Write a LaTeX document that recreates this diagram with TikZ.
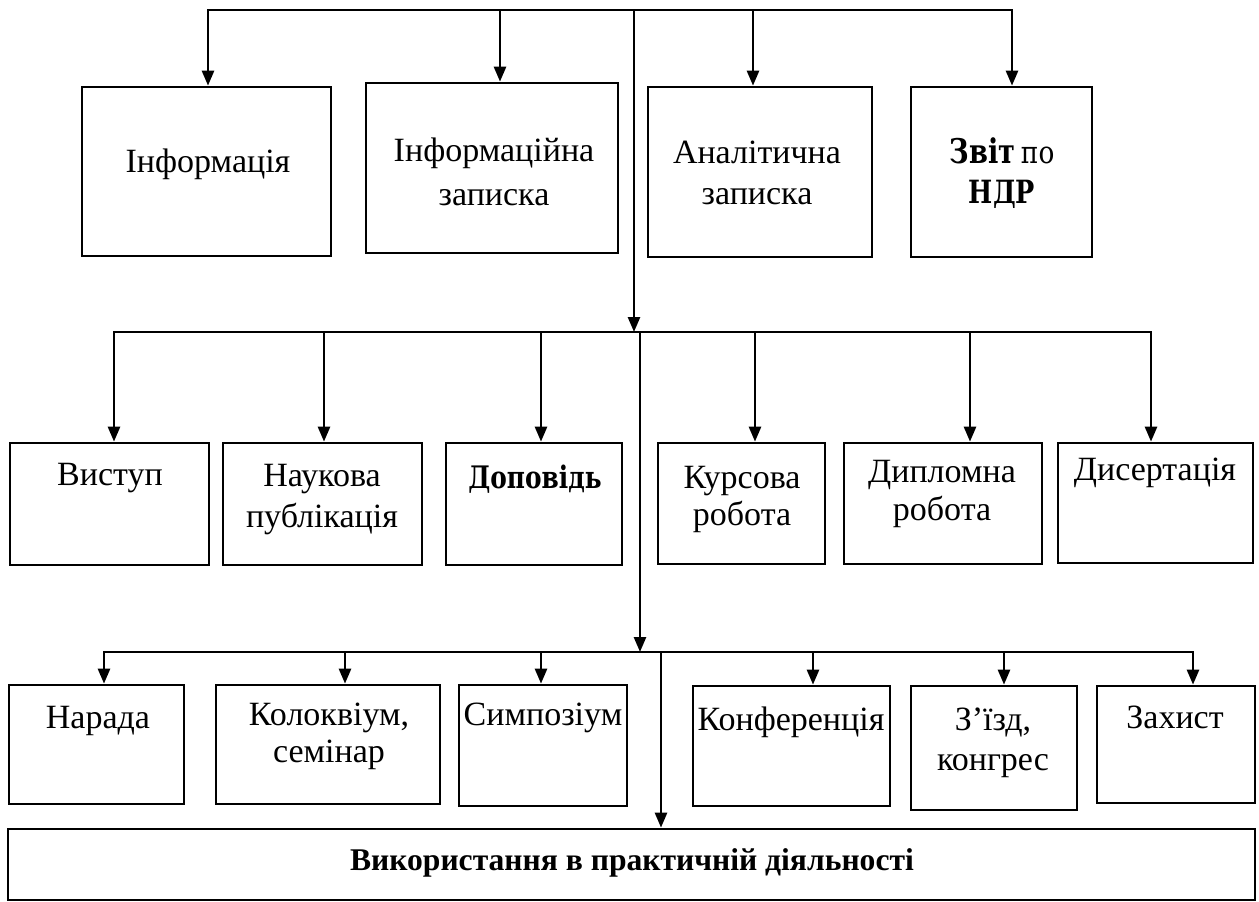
\documentclass[tikz,border=0pt]{standalone}
\usepackage{fontspec}
\setmainfont{Liberation Serif}
\newfontfamily\cent[FakeStretch=0.85]{DejaVu Serif}
\newfontfamily\centb[FakeStretch=0.8]{DejaVu Serif}
\usetikzlibrary{arrows.meta}
\begin{document}
\begin{tikzpicture}[x=1pt,y=-1pt,
  box/.style={draw, line width=2.7pt, inner sep=0pt},
  txt/.style={inner sep=0pt, anchor=base, align=center, font=\fontsize{34}{40}\selectfont},
  ln/.style={line width=2.6pt},
  arr/.style={line width=2.6pt, -{Triangle[length=15pt,width=12pt]}}]
\useasboundingbox (0,0) rectangle (1259,902);
\fill[white] (0,0) rectangle (1259,902);
% ---- top row boxes
\node[box, minimum width=249pt, minimum height=169pt] (inf)  at (206.5,171.5) {};
\node[box, minimum width=252pt, minimum height=170pt] (infz) at (492,168) {};
\node[box, minimum width=224pt, minimum height=170pt] (anal) at (760,172) {};
\node[box, minimum width=181pt, minimum height=170pt] (zvit) at (1001.5,172) {};
\node[txt] (infT)  at (208,172) {Інформація};
\node[txt, font=\fontsize{34}{44}\selectfont] (infzT) at (494,205) {Інформаційна\\записка};
\node[txt, font=\fontsize{34}{41}\selectfont] (analT) at (757,204) {Аналітична\\записка};
\node[txt] (zvitT) at (1002,203) {{\centb\bfseries Звіт}\,{\cent\fontsize{31}{40}\selectfont по}\\{\centb\bfseries\fontsize{32}{40}\selectfont НДР}};
% ---- second row boxes
\node[box, minimum width=199pt, minimum height=122pt] (vyst) at (109.5,504) {};
\node[box, minimum width=199pt, minimum height=122pt] (nauk) at (322.5,504) {};
\node[box, minimum width=176pt, minimum height=122pt] (dop)  at (534,504) {};
\node[box, minimum width=167pt, minimum height=121pt] (kurs) at (741.5,503.5) {};
\node[box, minimum width=198pt, minimum height=121pt] (dypl) at (943,503.5) {};
\node[box, minimum width=195pt, minimum height=120pt] (dys)  at (1155.5,503) {};
\node[txt] (vystT) at (110,485) {Виступ};
\node[txt, font=\fontsize{34}{41}\selectfont] (naukT) at (322,527) {Наукова\\публікація};
\node[txt, font=\fontsize{31}{40}\selectfont] (dopT)  at (535,488) {{\centb\bfseries Доповідь}};
\node[txt, font=\fontsize{34}{37}\selectfont] (kursT) at (742,525) {Курсова\\робота};
\node[txt, font=\fontsize{34}{38}\selectfont] (dyplT) at (942,520) {Дипломна\\робота};
\node[txt] (dysT)  at (1155,480) {Дисертація};
% ---- third row boxes
\node[box, minimum width=175pt, minimum height=119pt] (nar)  at (96.5,744.5) {};
\node[box, minimum width=224pt, minimum height=119pt] (kol)  at (328,744.5) {};
\node[box, minimum width=168pt, minimum height=121pt] (sym)  at (543,745.5) {};
\node[box, minimum width=197pt, minimum height=120pt] (konf) at (791.5,746) {};
\node[box, minimum width=166pt, minimum height=124pt] (ziz)  at (994,748) {};
\node[box, minimum width=158pt, minimum height=117pt] (zah)  at (1176,744.5) {};
\node[txt] (narT)  at (98,728) {Нарада};
\node[txt, font=\fontsize{34}{37}\selectfont] (kolT)  at (329,762) {Колоквіум,\\семінар};
\node[txt] (symT)  at (543,725) {Симпозіум};
\node[txt] (konfT) at (791,730) {Конференція};
\node[txt, font=\fontsize{34}{40}\selectfont] (zizT)  at (993,770) {З'їзд,\\конгрес};
\node[txt] (zahT)  at (1175,728) {Захист};
% ---- bottom box
\node[box, minimum width=1247pt, minimum height=71pt] (use) at (631.5,864.5) {};
\node[txt, font=\fontsize{31.6}{36}\selectfont\bfseries] (useT) at (632,870) {Використання в практичній діяльності};
% ---- bus coordinates
\coordinate (t1) at (208,10);
\coordinate (t2) at (500,10);
\coordinate (tc) at (634,10);
\coordinate (t3) at (753,10);
\coordinate (t4) at (1012,10);
\coordinate (b2in) at (634,332);
\coordinate (s1) at (114,332);
\coordinate (s2) at (324,332);
\coordinate (s3) at (541,332);
\coordinate (sc) at (640,332);
\coordinate (s4) at (755,332);
\coordinate (s5) at (970,332);
\coordinate (s6) at (1151,332);
\coordinate (b3in) at (640,652);
\coordinate (r1) at (104,652);
\coordinate (r2) at (345,652);
\coordinate (r3) at (541,652);
\coordinate (rc) at (661,652);
\coordinate (r4) at (813,652);
\coordinate (r5) at (1004,652);
\coordinate (r6) at (1193,652);
% ---- top bus
\draw[arr] (t2) -- (t1) -- (t1 |- inf.north);
\draw[arr] (t2) -- (t2 |- infz.north);
\draw[ln] (t2) -- (t3);
\draw[arr] (t3) -- (t3 |- anal.north);
\draw[arr] (t3) -- (t4) -- (t4 |- zvit.north);
\draw[arr] (tc) -- (b2in);
% ---- second bus
\draw[arr] (s2) -- (s1) -- (s1 |- vyst.north);
\draw[arr] (s2) -- (s2 |- nauk.north);
\draw[ln] (s2) -- (s5);
\draw[arr] (s3) -- (s3 |- dop.north);
\draw[arr] (s4) -- (s4 |- kurs.north);
\draw[arr] (s5) -- (s5 |- dypl.north);
\draw[arr] (s5) -- (s6) -- (s6 |- dys.north);
\draw[arr] (sc) -- (b3in);
% ---- third bus
\draw[arr] (r2) -- (r1) -- (r1 |- nar.north);
\draw[arr] (r2) -- (r2 |- kol.north);
\draw[ln] (r2) -- (r5);
\draw[arr] (r3) -- (r3 |- sym.north);
\draw[arr] (r4) -- (r4 |- konf.north);
\draw[arr] (r5) -- (r5 |- ziz.north);
\draw[arr] (r5) -- (r6) -- (r6 |- zah.north);
\draw[arr] (rc) -- (rc |- use.north);
\end{tikzpicture}
\end{document}
